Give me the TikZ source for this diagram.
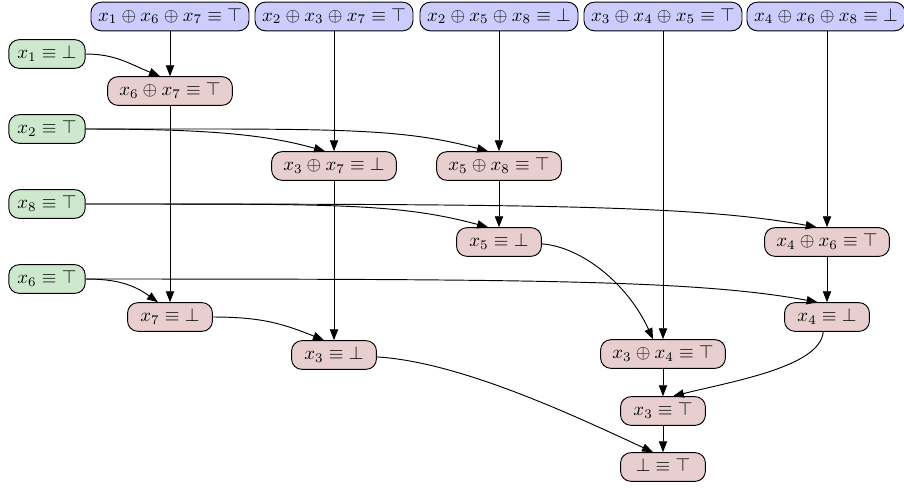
\documentclass[tikz,border=0pt]{standalone}
\usetikzlibrary{arrows.meta}
\definecolor{cblue}{RGB}{204,204,255}
\definecolor{cgreen}{RGB}{206,232,206}
\definecolor{cred}{RGB}{232,206,206}
\begin{document}
\begin{tikzpicture}[x=0.53pt,y=-0.53pt,
  box/.style={draw, line width=0.5pt, rounded corners=5.5pt, inner ysep=0pt,
    minimum height=15.2pt, text height=7pt, text depth=2.2pt},
  topbox/.style={box, fill=cblue, inner xsep=3.8pt},
  givenbox/.style={box, fill=cgreen, inner xsep=4.6pt},
  derivedbox/.style={box, fill=cred, inner xsep=6.2pt, minimum width=45pt},
  ar/.style={-{Triangle[length=5.8pt,width=4.4pt]}, line width=0.5pt}]
\useasboundingbox (0,0) rectangle (904,487);
% top row
\node[topbox] (t1) at (170,16.5) {$x_1\oplus x_6\oplus x_7\equiv\top$};
\node[topbox] (t2) at (334,16.5) {$x_2\oplus x_3\oplus x_7\equiv\top$};
\node[topbox] (t3) at (499,16.5) {$x_2\oplus x_5\oplus x_8\equiv\bot$};
\node[topbox] (t4) at (663,16.5) {$x_3\oplus x_4\oplus x_5\equiv\top$};
\node[topbox] (t5) at (826,16.5) {$x_4\oplus x_6\oplus x_8\equiv\bot$};
% given
\node[givenbox] (g1) at (47,54) {$x_1\equiv\bot$};
\node[givenbox] (g2) at (47,129) {$x_2\equiv\top$};
\node[givenbox] (g3) at (47,204) {$x_8\equiv\top$};
\node[givenbox] (g4) at (47,279) {$x_6\equiv\top$};
% derived
\node[derivedbox] (r1) at (170,91) {$x_6\oplus x_7\equiv\top$};
\node[derivedbox] (r2) at (334,166) {$x_3\oplus x_7\equiv\bot$};
\node[derivedbox] (r3) at (499,166) {$x_5\oplus x_8\equiv\top$};
\node[derivedbox] (r4) at (499,242) {$x_5\equiv\bot$};
\node[derivedbox] (r5) at (827,242) {$x_4\oplus x_6\equiv\top$};
\node[derivedbox] (r6) at (170,317) {$x_7\equiv\bot$};
\node[derivedbox] (r7) at (827,317) {$x_4\equiv\bot$};
\node[derivedbox] (r8) at (334,355) {$x_3\equiv\bot$};
\node[derivedbox] (r9) at (663,354) {$x_3\oplus x_4\equiv\top$};
\node[derivedbox] (r10) at (663,411) {$x_3\equiv\top$};
\node[derivedbox] (r11) at (663,467) {$\bot\equiv\top$};
% vertical edges
\draw[ar] (t1) -- (r1);
\draw[ar] (r1) -- (r6);
\draw[ar] (t2) -- (r2);
\draw[ar] (r2) -- (r8);
\draw[ar] (t3) -- (r3);
\draw[ar] (r3) -- (r4);
\draw[ar] (t4) -- (r9);
\draw[ar] (r9) -- (r10);
\draw[ar] (r10) -- (r11);
\draw[ar] (t5.south -| r5.north) -- (r5);
\draw[ar] (r5) -- (r7);
% curved edges
\draw[ar] (g1.east) .. controls +(30,0) and +(-30,-12) .. ([xshift=-5.3pt]r1.north);
\draw[ar] (g2.east) .. controls +(120,0) and +(-60,-17) .. ([xshift=-4.8pt]r2.north);
\draw[ar] (g2.east) .. controls +(250,0) and +(-90,-24) .. ([xshift=-5.8pt]r3.north);
\draw[ar] (g3.east) .. controls +(250,0) and +(-90,-24) .. ([xshift=-5.8pt]r4.north);
\draw[ar] (g3.east) .. controls +(450,0) and +(-120,-22) .. ([xshift=-5.5pt]r5.north);
\draw[ar] (g4.east) .. controls +(30,0) and +(-25,-18) .. ([xshift=-6.4pt]r6.north);
\draw[ar] (g4.east) .. controls +(450,0) and +(-120,-22) .. ([xshift=-5pt]r7.north);
\draw[ar] (r6.east) .. controls +(50,0) and +(-40,-16) .. ([xshift=-5.3pt]r8.north);
\draw[ar] ([yshift=-1pt]r4.east) .. controls +(40,3) and +(-25,-55) .. ([xshift=-5.3pt]r9.north);
\draw[ar] ([xshift=-2pt]r7.south) .. controls +(-3,35) and +(60,-15) .. ([xshift=5.3pt]r10.north);
\draw[ar] ([yshift=-1pt]r8.east) .. controls +(80,5) and +(-90,-42) .. ([xshift=-5.3pt]r11.north);
\end{tikzpicture}
\end{document}
